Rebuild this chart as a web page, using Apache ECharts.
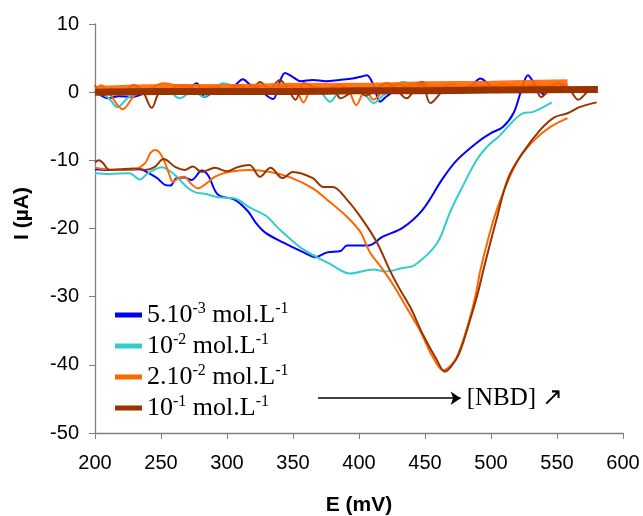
<!DOCTYPE html>
<html>
<head>
<meta charset="utf-8">
<script src="https://cdn.jsdelivr.net/npm/echarts@6/dist/echarts.min.js"></script>
<style>html,body{margin:0;padding:0;background:#fff}#c{width:643px;height:516px}</style>
</head>
<body>
<div id="c"></div>
<script>
// ---- data (E in mV, I in µA) ----
var seriesNames = ['5.10-3', '10-2', '2.10-2', '10-1'];
var legendLabels = {
  '5.10-3': '{a|5.10}{s|-3}{a| mol.L}{s|-1}',
  '10-2': '{a|10}{s|-2}{a| mol.L}{s|-1}',
  '2.10-2': '{a|2.10}{s|-2}{a| mol.L}{s|-1}',
  '10-1': '{a|10}{s|-1}{a| mol.L}{s|-1}'
};
var xTicks = [200, 250, 300, 350, 400, 450, 500, 550, 600];
var yTicks = [-50, -40, -30, -20, -10, 0, 10];

// return (reduction) branches
var blueLower = [[200,-11.3],[210,-11.4],[221,-11.4],[234,-11.3],[240,-11.8],[247,-12.6],[253,-13.6],[257,-13.7],[262,-12.6],[268,-12.5],[273,-12.9],[281,-11.5],[286,-12.3],[293,-15.0],[306,-15.8],[316,-17.5],[322,-19.2],[329,-20.6],[342,-22.0],[358,-23.5],[367,-24.2],[376,-23.5],[386,-23.3],[391,-22.5],[407,-22.5],[418,-21.2],[433,-19.9],[448,-17.3],[463,-12.8],[474,-10.0],[490,-7.3],[500,-6.0],[509,-5.1],[517,-3.1],[523,0.3],[528,2.5],[532,1.5],[536,0.3],[540,-0.4]];
var cyanLower = [[200,-11.9],[211,-12.0],[226,-11.9],[234,-12.8],[240,-11.9],[251,-11.0],[257,-11.6],[262,-12.4],[270,-14.0],[276,-14.7],[283,-14.9],[293,-15.4],[306,-15.6],[317,-16.9],[330,-18.2],[338,-19.8],[355,-22.7],[368,-24.2],[378,-25.2],[393,-26.6],[411,-26.0],[420,-26.3],[433,-25.8],[442,-25.4],[459,-22.2],[469,-17.6],[477,-14.4],[489,-10.0],[497,-8.0],[507,-6.3],[516,-4.4],[524,-3.1],[532,-2.9],[546,-1.5]];
var orangeLower = [[200,-11.1],[215,-11.4],[230,-11.3],[238,-10.4],[242,-8.9],[246,-8.5],[251,-9.5],[256,-11.9],[259,-13.2],[263,-12.6],[268,-12.4],[272,-13.3],[278,-14.1],[283,-13.6],[291,-12.4],[301,-11.7],[317,-11.4],[333,-11.7],[348,-12.5],[365,-14.1],[376,-15.8],[391,-18.3],[401,-20.5],[408,-23.4],[418,-26.0],[426,-28.3],[436,-31.6],[446,-34.9],[456,-38.9],[464,-40.8],[468,-40.4],[474,-38.9],[482,-34.5],[488,-30.1],[492,-26.1],[499,-20.7],[505,-16.9],[514,-12.5],[522,-9.5],[533,-7.0],[545,-5.1],[558,-3.8]];
var brownLower = [[200,-10.3],[203,-10.0],[206,-10.4],[211,-11.4],[219,-11.3],[230,-11.2],[238,-11.4],[245,-11.0],[252,-9.8],[261,-11.0],[268,-11.4],[274,-10.9],[281,-11.7],[291,-11.1],[300,-11.6],[308,-11.0],[317,-10.7],[325,-12.4],[333,-11.1],[342,-12.6],[350,-11.7],[365,-12.6],[373,-13.9],[380,-13.9],[391,-15.8],[403,-18.8],[414,-22.2],[423,-26.0],[430,-28.6],[439,-31.6],[448,-35.4],[459,-39.3],[465,-41.0],[470,-40.2],[476,-38.3],[484,-33.5],[490,-29.5],[495,-25.5],[504,-18.8],[513,-12.6],[524,-8.9],[537,-5.6],[548,-3.7],[558,-3.1],[567,-2.2],[580,-1.5]];

// forward (baseline) branches, read left to right
var blueBand = [[200,0.2],[210,-0.9],[218,-0.6],[228,-0.7],[240,0.0],[250,0.3],[260,0.2],[270,0.5],[277,1.3],[283,-0.7],[290,0.0],[300,0.5],[306,1.0],[312,1.9],[318,1.0],[325,0.5],[330,-0.5],[335,-1.0],[340,1.5],[344,2.8],[350,2.2],[356,1.6],[365,1.8],[375,1.6],[385,1.8],[395,2.0],[402,2.3],[406,2.5],[411,1.0],[416,-1.4],[421,-0.6],[430,0.5],[440,1.0],[448,1.5],[455,0.5],[465,0.8],[475,0.6],[485,1.0],[492,2.0],[498,1.2],[505,0.4],[515,0.5],[525,0.6],[535,0.5]];
var cyanBand = [[200,0.0],[210,-0.8],[217,-2.2],[225,-0.8],[235,0.0],[245,0.5],[255,0.3],[264,-0.9],[275,0.2],[282,-0.7],[290,0.3],[297,1.3],[310,0.5],[320,0.2],[330,0.3],[340,0.5],[350,0.3],[360,0.5],[370,0.2],[378,-1.4],[385,0.0],[395,0.3],[405,-0.5],[411,-1.6],[418,-0.5],[425,0.3],[433,1.5],[440,1.2],[450,0.8],[460,0.3],[470,0.5],[480,0.2],[490,0.4],[500,0.3],[510,0.5],[520,0.2],[530,0.5],[540,0.3]];
var orangeBand = [[200,0.5],[205,1.0],[212,-0.5],[221,-2.5],[230,-0.5],[240,0.3],[252,1.3],[265,0.8],[275,0.3],[285,0.8],[295,0.3],[305,0.8],[315,0.6],[325,1.0],[335,0.5],[345,1.0],[352,0.5],[358,-1.5],[365,0.8],[375,0.5],[385,1.0],[392,0.3],[398,-1.9],[405,0.5],[411,-1.1],[420,0.5],[430,1.2],[440,0.6],[450,1.0],[460,0.8],[470,1.2],[480,0.6],[490,1.0],[500,0.8],[510,1.2],[520,0.7],[530,1.0],[540,0.8],[550,1.2],[558,1.0]];
var brownBand = [[200,1.0],[206,-0.5],[212,0.5],[220,-0.2],[229,1.0],[236,0.2],[243,-2.3],[249,0.0],[256,0.2],[264,1.0],[272,0.8],[280,0.0],[290,0.8],[300,0.3],[310,1.0],[318,0.2],[325,1.5],[332,0.5],[340,1.8],[346,0.5],[352,-1.1],[358,1.3],[365,0.8],[372,-0.2],[380,0.6],[386,-0.9],[392,-0.3],[398,0.5],[405,-0.5],[412,0.3],[421,1.3],[428,0.5],[436,-0.9],[442,0.3],[448,1.3],[454,-1.6],[465,0.3],[475,0.5],[485,0.2],[495,0.8],[505,0.0],[515,0.5],[525,0.2],[532,1.0],[538,-0.7],[544,0.3],[550,1.3],[560,0.2],[566,-1.1],[575,0.3],[580,0.4]];
// dense overlapping baseline scans (thick band)
var orangeCore = [[200,0.3],[250,0.6],[300,0.6],[350,0.8],[400,0.8],[450,1.0],[500,1.1],[558,1.3]];
var brownCore = [[200,0.0],[250,0.1],[300,0.1],[350,0.1],[400,0.2],[450,0.2],[500,0.3],[581,0.4]];

var colors = ['#0000FF', '#33CCCC', '#FF6600', '#993300'];
var lowers = [blueLower, cyanLower, orangeLower, brownLower];
var bands = [blueBand, cyanBand, orangeBand, brownBand];
var joined = [true, false, false, false]; // blue return branch runs into its baseline

var series = [];
for (var i = 0; i < 4; i++) {
  var d = lowers[i].slice();
  if (!joined[i]) d.push(['-', '-']);
  d = d.concat(bands[i].slice().reverse());
  series.push({
    name: seriesNames[i], type: 'line', showSymbol: false, symbol: 'none', smooth: 0.35,
    connectNulls: false, data: d,
    lineStyle: { color: colors[i], width: 2 }, itemStyle: { color: colors[i] },
    z: 2 + i
  });
}
series.push({
  name: seriesNames[2], type: 'line', symbol: 'none', smooth: 0.3, data: orangeCore,
  lineStyle: { color: colors[2], width: 8, opacity: 0.9 }, itemStyle: { color: colors[2] }, z: 6
});
series.push({
  name: seriesNames[3], type: 'line', symbol: 'none', smooth: 0.3, data: brownCore,
  lineStyle: { color: colors[3], width: 7 }, itemStyle: { color: colors[3] }, z: 7,
  markLine: {
    silent: true, symbol: ['none', 'arrow'], symbolSize: 10,
    lineStyle: { color: '#000', width: 1.5, type: 'solid' },
    label: { show: true, position: 'end', formatter: '[NBD] \u2197', color: '#000',
             fontFamily: 'Liberation Serif', fontSize: 25, distance: 6 },
    data: [[{ coord: [369, -44.9], symbol: 'none' }, { coord: [477, -44.9], symbol: 'arrow' }]]
  }
});

var chart = echarts.init(document.getElementById('c'), null, { renderer: 'canvas' });
chart.setOption({
  animation: false,
  backgroundColor: '#fff',
  grid: { left: 95, right: 20, top: 24, bottom: 83, containLabel: false, outerBoundsMode: 'none' },
  xAxis: {
    type: 'value', min: 200, max: 600, interval: 50,
    name: 'E (mV)', nameLocation: 'middle', nameGap: 62,
    nameTextStyle: { fontFamily: 'Liberation Sans', fontWeight: 'bold', fontSize: 21, color: '#000' },
    axisLine: { onZero: false, lineStyle: { color: '#808080', width: 1.3 } },
    axisTick: { show: true, inside: false, length: 6, lineStyle: { color: '#808080' } },
    axisLabel: { margin: 20, fontFamily: 'Liberation Sans', fontSize: 20, color: '#000',
                 formatter: function (v) { return xTicks.indexOf(v) >= 0 ? String(v) : ''; } },
    splitLine: { show: false }
  },
  yAxis: {
    type: 'value', min: -50, max: 10, interval: 10,
    name: 'I (\u00b5A)', nameLocation: 'middle', nameGap: 62, nameRotate: 90,
    nameTextStyle: { fontFamily: 'Liberation Sans', fontWeight: 'bold', fontSize: 21, color: '#000', padding: [0, 0, 0, 30] },
    axisLine: { onZero: false, lineStyle: { color: '#808080', width: 1.3 } },
    axisTick: { show: true, inside: false, length: 6, lineStyle: { color: '#808080' } },
    axisLabel: { margin: 16, fontFamily: 'Liberation Sans', fontSize: 20, color: '#000',
                 formatter: function (v) { return yTicks.indexOf(v) >= 0 ? String(v) : ''; } },
    splitLine: { show: false }
  },
  legend: {
    orient: 'vertical', left: 110, top: 296, itemGap: 3,
    itemWidth: 27, itemHeight: 5, icon: 'rect',
    data: seriesNames,
    formatter: function (n) { return legendLabels[n]; },
    textStyle: {
      color: '#000', fontFamily: 'Liberation Serif', fontSize: 26, lineHeight: 28,
      rich: {
        a: { fontFamily: 'Liberation Serif', fontSize: 26, lineHeight: 28, color: '#000' },
        s: { fontFamily: 'Liberation Serif', fontSize: 16, lineHeight: 17, verticalAlign: 'top', color: '#000' }
      }
    }
  },
  series: series
});
</script>
</body>
</html>
